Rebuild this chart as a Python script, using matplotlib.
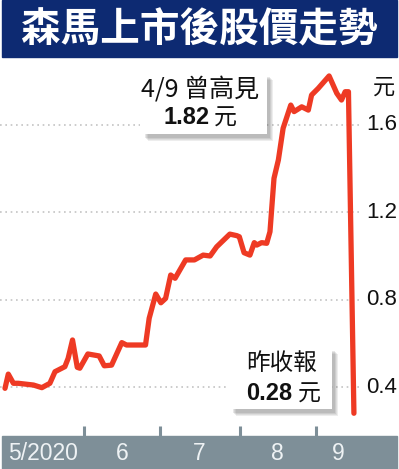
import matplotlib
matplotlib.use("Agg")
import matplotlib.pyplot as plt
from matplotlib.patches import Rectangle
from matplotlib.transforms import blended_transform_factory

# 森馬上市後股價 (元), x = trading day since listing
day = [0, 0.9, 2.3, 3.6, 7.8, 10.1, 12.3, 13.7, 16.4, 17.3,
       18.5, 19.8, 20.5, 22.7, 25.8, 27.2, 29.2, 32.0, 33.3, 38.5,
       39.5, 41.3, 42.7, 44.0, 45.4, 46.6, 49.5, 51.9, 53.2, 54.3,
       56.2, 58.0, 61.6, 63.5, 64.2, 65.5, 67.1, 68.3, 69.0, 70.3,
       71.7, 72.6, 73.7, 74.9, 76.2, 78.3, 79.2, 81.3, 83.1, 84.0,
       85.8, 88.8, 90.9, 92.2, 93.2, 94.1, 95.6]
price = [0.394, 0.459, 0.417, 0.417, 0.409, 0.397, 0.417, 0.470, 0.493, 0.531,
         0.615, 0.490, 0.486, 0.551, 0.542, 0.497, 0.500, 0.603, 0.592, 0.592,
         0.714, 0.825, 0.785, 0.805, 0.912, 0.897, 0.981, 0.981, 0.993, 1.003,
         0.999, 1.041, 1.099, 1.092, 1.087, 1.014, 1.003, 1.060, 1.049, 1.060,
         1.057, 1.110, 1.354, 1.438, 1.583, 1.689, 1.659, 1.681, 1.666, 1.735,
         1.765, 1.822, 1.743, 1.712, 1.750, 1.750, 0.28]

month_breaks = [21.6, 42.5, 64.4, 85.2]
month_labels = ["5/2020", "6", "7", "8", "9"]
month_label_pos = [10.4, 32.1, 53.2, 74.5, 91.2]

y_ticks = [0.4, 0.8, 1.2, 1.6]
y_tick_labels = ["0.4", "0.8", "1.2", "1.6"]

title = "森馬上市後股價走勢"
high_note = ("4/9 曾高見", "1.82", "元")
close_note = ("昨收報", "0.28", "元")

NAVY = "#0d2a72"
BAR_GRAY = "#7e8f98"
RED = "#ee3a24"
CJK = ["Liberation Sans", "Noto Sans CJK TC", "DejaVu Sans"]
NARROW = ["Liberation Sans Narrow", "Noto Sans CJK TC", "DejaVu Sans"]

W, H = 399, 469
fig = plt.figure(figsize=(W / 100, H / 100), dpi=100)
fig.patch.set_facecolor("white")


def fx(x):
    return x / W


def fy(y):
    # pixel y measured from the top
    return 1 - y / H


# chart area
ax = fig.add_axes([0, fy(436), 1, (436 - 60) / H])
ax.set_xlim(-1.37, 107.95)
ax.set_ylim(0.176, 1.895)
ax.axis("off")

for v in y_ticks:
    ax.axhline(v, xmin=0, xmax=362 / W, color="#c4c4c4", lw=1.2,
               ls=(0, (1, 2.2)), zorder=1)

ytrans = ax.get_yaxis_transform()
for v, lab in zip(y_ticks, y_tick_labels):
    ax.text(1 - 2 / W, v, lab, transform=ytrans, ha="right", va="center",
            fontsize=16, family=CJK, color="#111111")
ax.text(1 - 4 / W, 1.77, "元", transform=ytrans, ha="right", va="center",
        fontsize=16, family=["Noto Sans CJK TC"], color="#111111")

ax.plot(day, price, color=RED, lw=3.8, solid_capstyle="round",
        solid_joinstyle="round", zorder=5)

# month separator ticks
ax.vlines(month_breaks, 0, 10 / 376, transform=ax.get_xaxis_transform(),
          color=BAR_GRAY, lw=2.2)

# title bar
fig.patches.append(Rectangle((fx(2), fy(57)), fx(395), 57 / H,
                             transform=fig.transFigure, color=NAVY, zorder=3))
fig.text(fx(199), fy(30), title, ha="center", va="center", color="white",
         fontsize=28.5, fontweight="black", family=["Noto Sans CJK TC"],
         zorder=4)

# bottom month bar
fig.patches.append(Rectangle((fx(2), 0), fx(395), 33 / H,
                             transform=fig.transFigure, color=BAR_GRAY,
                             zorder=3))
btrans = blended_transform_factory(ax.transData, fig.transFigure)
for xp, lab in zip(month_label_pos, month_labels):
    fig.text(xp, fy(453), lab, transform=btrans, ha="center", va="center",
             color="#eef2f4", fontsize=16.5, family=CJK, zorder=4)


def note_box(x0, y0, x1, y1):
    # soft drop shadow
    for i, a in enumerate([0.10, 0.10, 0.12, 0.14]):
        off = 7 - i
        fig.patches.append(Rectangle((fx(x0 + off + 1), fy(y1 + off)),
                                     fx(x1 - x0 - 2), (y1 - y0) / H,
                                     transform=fig.transFigure,
                                     color="#555555", alpha=a, lw=0,
                                     zorder=6))
    fig.patches.append(Rectangle((fx(x0), fy(y1)), fx(x1 - x0), (y1 - y0) / H,
                                 transform=fig.transFigure, color="white",
                                 lw=0, zorder=7))


note_box(140, 73, 267, 134)
fig.text(fx(200), fy(90), high_note[0], ha="center", va="center",
         fontsize=18, family=NARROW, color="#111111", zorder=8)
fig.text(fx(210), fy(118), high_note[1], ha="right", va="center",
         fontsize=17, fontweight="bold", family=CJK, color="#111111", zorder=8)
fig.text(fx(214), fy(118), high_note[2], ha="left", va="center",
         fontsize=16.5, family=["Noto Sans CJK TC"], color="#111111",
         zorder=8)

note_box(228, 347, 332, 409)
fig.text(fx(282), fy(363), close_note[0], ha="center", va="center",
         fontsize=17, family=["Noto Sans CJK TC"], color="#111111", zorder=8)
fig.text(fx(292), fy(394), close_note[1], ha="right", va="center",
         fontsize=17, fontweight="bold", family=CJK, color="#111111", zorder=8)
fig.text(fx(298), fy(394), close_note[2], ha="left", va="center",
         fontsize=16.5, family=["Noto Sans CJK TC"], color="#111111",
         zorder=8)

fig.savefig("out.png", dpi=100)
